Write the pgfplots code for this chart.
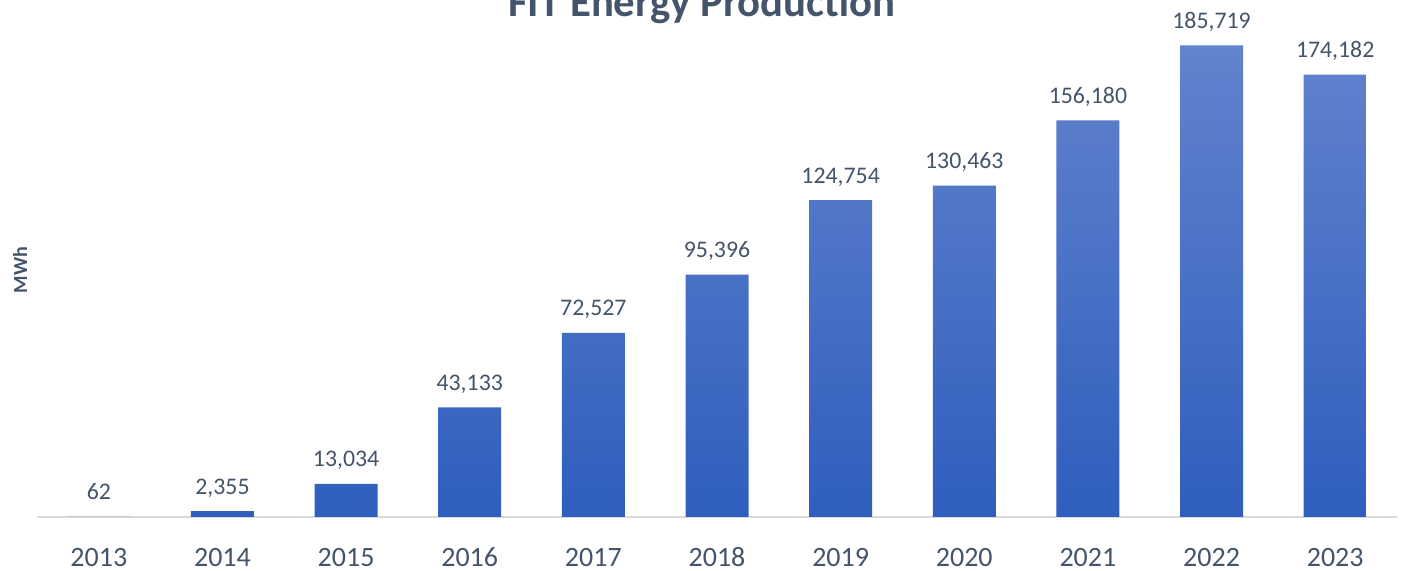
\documentclass[border=0pt]{standalone}
\usepackage{pgfplots}
\pgfplotsset{compat=1.18}
\usepackage{fontspec}
\setmainfont{Carlito}
\definecolor{txt}{HTML}{44546A}
\definecolor{bartop}{HTML}{6283CD}
\definecolor{barbot}{HTML}{2F5EBE}
\definecolor{axl}{HTML}{D9D9D9}
\begin{document}
\begin{tikzpicture}
\useasboundingbox (0,0) rectangle (702.5pt,285.5pt);
\begin{pgfinterruptboundingbox}
\begin{axis}[
  at={(18.5pt,27pt)}, anchor=south west,
  scale only axis, width=680pt, height=254pt,
  xmin=-0.5, xmax=10.5, ymin=0, ymax=200000,
  axis x line=bottom, axis y line=none,
  x axis line style={-, draw=axl, line width=1pt},
  xtick=data,
  xticklabels={2013,2014,2015,2016,2017,2018,2019,2020,2021,2022,2023},
  xtick style={draw=none},
  xticklabel style={font=\fontsize{14}{16}\selectfont, text=txt, anchor=base, inner sep=0pt, yshift=-20.5pt},
  ytick=\empty,
  ybar, bar width=31.5pt,
  nodes near coords,
  nodes near coords style={font=\fontsize{11.9}{14}\selectfont, text=txt, anchor=base, inner sep=0pt, yshift=8.5pt},
  /pgf/number format/.cd, fixed, precision=0, 1000 sep={,}, assume math mode=true,
  /pgfplots/.cd,
  clip=false,
]
\addplot[draw=none, top color=bartop, bottom color=barbot] coordinates {
(0,62) (1,2355) (2,13034) (3,43133) (4,72527) (5,95396) (6,124754) (7,130463) (8,156180) (9,185719) (10,174182)};
\end{axis}
\node[anchor=base, text=txt, font=\bfseries\fontsize{21.4}{24}\selectfont, inner sep=0pt] at (351pt,277pt) {FIT Energy Production};
\node[rotate=90, anchor=center, text=txt, font=\bfseries\fontsize{10}{12}\selectfont, inner sep=0pt] at (10pt,150.5pt) {MWh};
\end{pgfinterruptboundingbox}
\end{tikzpicture}
\end{document}
